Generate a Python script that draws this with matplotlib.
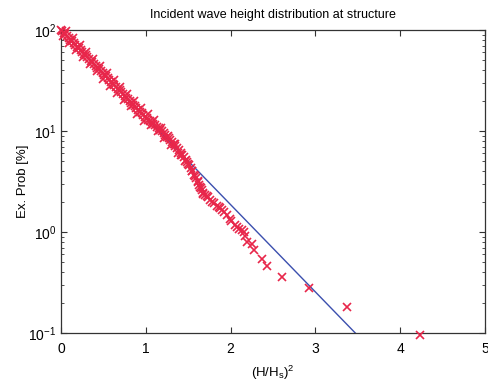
import matplotlib
matplotlib.use("Agg")
import matplotlib.pyplot as plt
from matplotlib.ticker import LogLocator, NullFormatter, FixedLocator

# Observed data: (H/Hs)^2 and exceedance probability [%]
x_obs = [0.00, 0.01, 0.03, 0.05, 0.07, 0.09, 0.11, 0.13, 0.15, 0.17, 0.19,
         0.21, 0.23, 0.25, 0.27, 0.29, 0.31, 0.33, 0.35, 0.37, 0.39,
         0.41, 0.43, 0.45, 0.47, 0.49, 0.51, 0.53, 0.55, 0.57, 0.59,
         0.61, 0.63, 0.65, 0.67, 0.69, 0.71, 0.73, 0.75, 0.77, 0.79,
         0.81, 0.83, 0.85, 0.87, 0.89, 0.91, 0.93, 0.95, 0.97, 0.99,
         1.01, 1.03, 1.05, 1.07, 1.09, 1.11, 1.13, 1.15, 1.17, 1.19,
         1.21, 1.23, 1.25, 1.27, 1.29, 1.31, 1.33, 1.35, 1.37, 1.39,
         1.41, 1.43, 1.45, 1.47, 1.49, 1.51, 1.53, 1.55, 1.57, 1.59,
         1.61, 1.64, 1.66, 1.70, 1.73, 1.76, 1.80, 1.84, 1.875, 1.92,
         1.96, 1.99, 2.05, 2.10, 2.16, 2.17, 2.19, 2.25, 2.27, 2.37,
         2.43, 2.61, 2.92, 3.37, 4.23,
         0.02, 0.06, 0.10, 0.14, 0.18, 0.22, 0.26, 0.30, 0.34, 0.38,
         0.42, 0.46, 0.50, 0.54, 0.58, 0.62, 0.66, 0.70, 0.74, 0.78,
         0.82, 0.86, 0.90, 0.94, 0.98, 1.02, 1.06, 1.10, 1.14, 1.18,
         1.22, 1.26, 1.30, 1.34, 1.38, 1.42, 1.46, 1.50, 1.54, 1.58,
         1.62, 1.63, 1.65, 1.67, 1.68, 1.72, 1.78, 1.86, 1.90, 2.01,
         2.07, 2.13]
p_obs = [100.0, 98.0, 94.2, 90.5, 86.9, 83.5, 80.3, 77.1, 74.1, 71.2, 68.4,
         65.7, 63.1, 60.7, 58.3, 56.0, 53.8, 51.7, 49.7, 47.7, 45.8,
         44.0, 42.3, 40.7, 39.1, 37.5, 36.1, 34.7, 33.3, 32.0, 30.7,
         29.5, 28.4, 27.3, 26.2, 25.2, 24.2, 23.2, 22.3, 21.4, 20.6,
         19.8, 19.0, 18.3, 17.6, 16.9, 16.2, 15.6, 15.0, 14.4, 13.8,
         13.4, 13.0, 12.6, 12.2, 11.8, 11.4, 11.0, 10.6, 10.3, 9.9,
         9.5, 9.1, 8.8, 8.5, 8.1, 7.8, 7.5, 7.1, 6.8, 6.5,
         6.1, 5.8, 5.5, 5.2, 4.9, 4.6, 4.3, 4.0, 3.7, 3.4,
         3.1, 2.8, 2.6, 2.32, 2.2, 2.07, 1.95, 1.81, 1.72, 1.58,
         1.47, 1.34, 1.17, 1.08, 1.0, 0.91, 0.79, 0.76, 0.66, 0.54,
         0.46, 0.36, 0.28, 0.18, 0.096,
         86.5, 97.6, 73.7, 83.2, 62.8, 70.8, 53.5, 60.4, 45.6, 51.5,
         38.9, 43.9, 33.1, 37.4, 28.2, 31.8, 24.0, 27.2, 20.5, 23.1,
         17.5, 19.7, 14.9, 16.8, 12.7, 14.6, 11.4, 12.8, 10.0, 10.8,
         8.5, 9.0, 7.2, 7.4, 6.0, 5.8, 5.0, 4.75, 4.05, 3.6,
         3.2, 2.9, 2.7, 2.45, 2.4, 2.25, 2.0, 1.75, 1.65, 1.28,
         1.12, 1.05]

# Theoretical Rayleigh line end points
x_ray = [0.0, 3.47]
p_ray = [100.0, 0.1]

x_ticks = [0, 1, 2, 3, 4, 5]

plt.rcParams['font.family'] = ['Liberation Sans', 'DejaVu Sans']
plt.rcParams['mathtext.fontset'] = 'custom'
plt.rcParams['mathtext.rm'] = 'Liberation Sans'
plt.rcParams['mathtext.it'] = 'Liberation Sans'

fig = plt.figure(figsize=(4.88, 3.85), dpi=100)
ax = fig.add_axes([0.125, 0.135, 0.869, 0.787])

ax.plot(x_ray, p_ray, color='#3b4fae', lw=1.0, zorder=2)
ax.plot(x_obs, p_obs, linestyle='none', marker='x', color='#e8264a',
        markersize=6.2, markeredgewidth=1.2, clip_on=False, zorder=3)

ax.set_yscale('log')
ax.set_xlim(0, 5)
ax.set_ylim(0.1, 100)
ax.xaxis.set_major_locator(FixedLocator(x_ticks))
ax.yaxis.set_major_locator(LogLocator(base=10, numticks=10))
ax.yaxis.set_minor_locator(LogLocator(base=10, subs=range(2, 10), numticks=10))
ax.yaxis.set_minor_formatter(NullFormatter())

ax.tick_params(which='both', direction='in', top=True, right=True,
               labelsize=10, color='#333333')
ax.tick_params(axis='x', which='major', pad=6.5)
ax.tick_params(which='major', length=4)
ax.tick_params(which='minor', length=2)
for s in ax.spines.values():
    s.set_color('#333333')
    s.set_linewidth(0.9)

ax.set_title('Incident wave height distribution at structure', fontsize=9, pad=9)
ax.set_xlabel('(H/H$_s$)$^2$', fontsize=9.5, labelpad=5.5)
ax.set_ylabel('Ex. Prob [%]', fontsize=9.5, labelpad=-1)

fig.savefig('out.png', dpi=100)
